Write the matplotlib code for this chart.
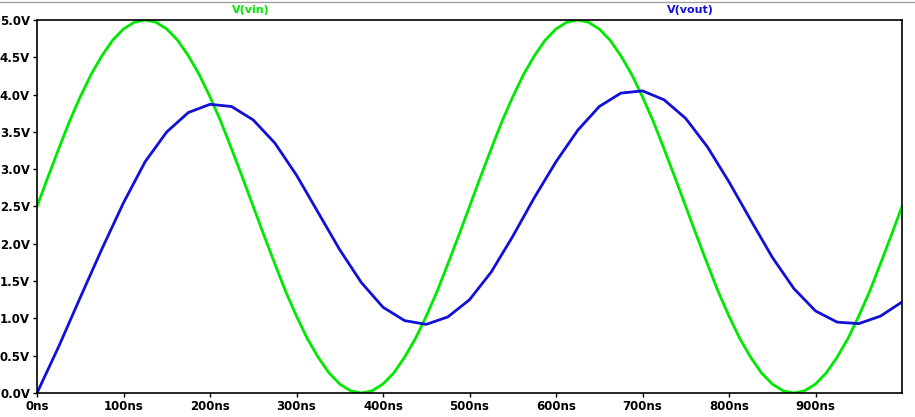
import matplotlib
matplotlib.use("Agg")
import matplotlib.pyplot as plt
import numpy as np

# V(vin) sampled every 12.5 ns
vin_half = [2.50, 2.89, 3.27, 3.64, 3.97, 4.27, 4.52, 4.73, 4.88, 4.97, 5.00,
            4.97, 4.88, 4.73, 4.52, 4.27, 3.97, 3.64, 3.27, 2.89, 2.50,
            2.11, 1.73, 1.36, 1.03, 0.73, 0.48, 0.27, 0.12, 0.03, 0.00,
            0.03, 0.12, 0.27, 0.48, 0.73, 1.03, 1.36, 1.73, 2.11]
vin = vin_half + vin_half + [2.50]
t_vin = [12.5 * i for i in range(len(vin))]

# V(vout) sampled every 25 ns
vout = [0.00, 0.62, 1.28, 1.93, 2.55, 3.10, 3.50, 3.76, 3.87, 3.84, 3.66, 3.35,
        2.92, 2.42, 1.92, 1.48, 1.15, 0.97, 0.92, 1.02, 1.25, 1.62, 2.10, 2.62,
        3.10, 3.52, 3.84, 4.02, 4.05, 3.93, 3.68, 3.30, 2.83, 2.32, 1.82, 1.40,
        1.10, 0.95, 0.93, 1.03, 1.22]
t_vout = [25 * i for i in range(len(vout))]

xticks = [0, 100, 200, 300, 400, 500, 600, 700, 800, 900]
xlabels = ["0ns", "100ns", "200ns", "300ns", "400ns", "500ns", "600ns", "700ns", "800ns", "900ns"]
yticks = [0.0, 0.5, 1.0, 1.5, 2.0, 2.5, 3.0, 3.5, 4.0, 4.5, 5.0]
ylabels = ["%.1fV" % v for v in yticks]

green = "#00e800"
blue = "#1010d8"

fig = plt.figure(figsize=(9.15, 4.17), dpi=100)
ax = fig.add_axes([37/915, 1-393/417, 865/915, 373/417])
ax.plot(t_vin, vin, color=green, lw=2)
ax.plot(t_vout, vout, color=blue, lw=2)
ax.set_xlim(0, 1000)
ax.set_ylim(0, 5.0)
ax.set_xticks(xticks)
ax.set_xticklabels(xlabels)
ax.set_yticks(yticks)
ax.set_yticklabels(ylabels)
ax.tick_params(labelsize=8.5, length=3, width=1, pad=2)
for lbl in ax.get_xticklabels() + ax.get_yticklabels():
    lbl.set_fontweight("bold")
for s in ax.spines.values():
    s.set_linewidth(1.2)
fig.text(251/915, 1-10/417, "V(vin)", color=green, ha="center", va="center", fontsize=8, fontweight="bold")
fig.text(690/915, 1-10/417, "V(vout)", color=blue, ha="center", va="center", fontsize=8, fontweight="bold")
fig.add_artist(plt.Line2D([0, 1], [1-2/417, 1-2/417], color="#a0a0a0", lw=1))
fig.savefig("out.png", dpi=100)
